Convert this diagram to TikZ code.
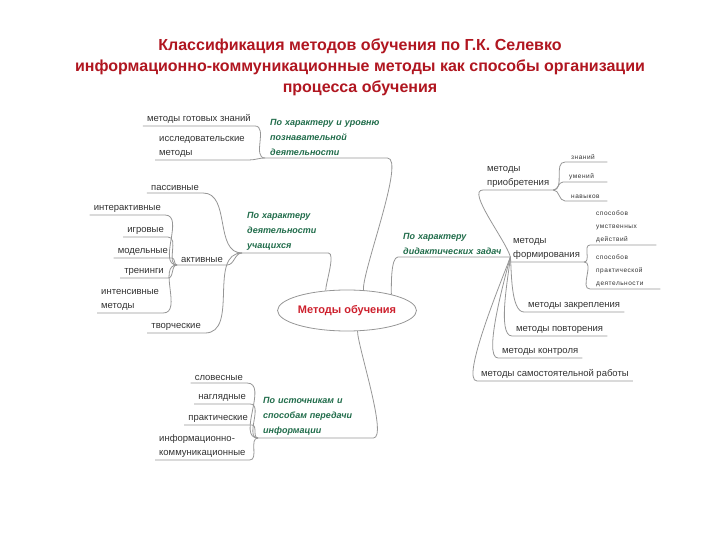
\documentclass[tikz,border=0pt]{standalone}
\usepackage{fontspec}
\setmainfont{Liberation Sans}
\usetikzlibrary{shapes.geometric}
\definecolor{titlered}{RGB}{176,22,32}
\definecolor{corered}{RGB}{205,32,45}
\definecolor{groupgreen}{RGB}{32,108,74}
\definecolor{linegray}{RGB}{150,150,150}
\definecolor{leafgray}{RGB}{50,50,50}
\begin{document}
\begin{tikzpicture}[x=1pt,y=-1pt,
    link/.style={draw=linegray, line width=0.8pt},
    leaf/.style={font=\fontsize{9.5}{14.5}\selectfont, text=leafgray, align=left, inner xsep=4pt, inner ysep=2pt},
    tiny/.style={font=\fontsize{6.5}{13}\selectfont\addfontfeature{LetterSpace=8}, text=leafgray, align=left, inner xsep=6pt, inner ysep=2pt, anchor=south west},
    group/.style={font=\fontsize{9}{15}\selectfont\bfseries\itshape, text=groupgreen, align=left, inner xsep=5pt, inner ysep=2pt, anchor=south west},
    core/.style={ellipse, draw=linegray, line width=0.8pt, minimum width=120pt, minimum height=41pt, inner sep=0pt, font=\fontsize{11}{13}\selectfont\bfseries, text=corered}]
\useasboundingbox (0,0) rectangle (720,540);

% title
\node[font=\fontsize{16}{21}\selectfont\bfseries, text=titlered, align=center] (head) at (360,67)
    {Классификация методов обучения по Г.К. Селевко\\информационно-коммуникационные методы как способы организации\\процесса обучения};

% centre
\node[core] (mo) at (347,310.5) {Методы обучения};

% groups
\node[group, text width=112pt] (poznav) at (265,158) {По характеру и уровню\\познавательной\\деятельности};
\node[group, text width=76pt] (deyat) at (242,253) {По характеру\\деятельности\\учащихся};
\node[group, text width=105pt] (istoch) at (258,438) {По источникам и\\способам передачи\\информации};
\node[group, text width=102pt] (didakt) at (398,257) {По характеру\\дидактических задач};

\draw[link] (poznav.south west) -- (poznav.south east) to[out=0,in=95,looseness=0.35] (mo.51);
\draw[link] (deyat.south west) -- (deyat.south east) to[out=0,in=90,looseness=0.5] (mo.137);
\draw[link] (istoch.south west) -- (istoch.south east) to[out=0,in=-90,looseness=0.35] (mo.297);
\draw[link] (mo.20) to[out=90,in=180,looseness=0.5] (didakt.south west) -- (didakt.south east);

% knowledge level
\node[leaf, anchor=south east] (gotov) at (255,126) {методы готовых знаний};
\node[leaf, anchor=south west] (issl) at (155,160) {исследовательские\\методы};
\draw[link] (gotov.south west) -- (gotov.south east) to[out=0,in=180] (poznav.south west);
\draw[link] (issl.south west) -- (issl.south east) to[out=0,in=180] (poznav.south west);

% pupils activity
\node[leaf, anchor=south east] (passiv) at (203,193) {пассивные};
\node[leaf, anchor=south west] (aktiv) at (177,265) {активные};
\node[leaf, anchor=south east] (tvorch) at (205,333) {творческие};
\draw[link] (passiv.south west) -- (passiv.south east) to[out=0,in=180] (deyat.south west);
\draw[link] (aktiv.south west) -- (aktiv.south east) to[out=0,in=180] (deyat.south west);
\draw[link] (tvorch.south west) -- (tvorch.south east) to[out=0,in=180] (deyat.south west);

\node[leaf, anchor=south east] (inter) at (165,215) {интерактивные};
\node[leaf, anchor=south east] (igrov) at (168,237) {игровые};
\node[leaf, anchor=south east] (model) at (172,258) {модельные};
\node[leaf, anchor=south east] (trenin) at (168,278) {тренинги};
\node[leaf, anchor=south west] (intens) at (97,313) {интенсивные\\методы};
\foreach \n in {inter,igrov,model,trenin,intens}
    \draw[link] (\n.south west) -- (\n.south east) to[out=0,in=180] (aktiv.south west);

% sources
\node[leaf, anchor=south east] (slov) at (247,383) {словесные};
\node[leaf, anchor=south east] (nagl) at (250,404) {наглядные};
\node[leaf, anchor=south east] (prakt) at (252,425) {практические};
\node[leaf, anchor=south west] (infkom) at (155,460) {информационно-\\коммуникационные};
\foreach \n in {slov,nagl,prakt,infkom}
    \draw[link] (\n.south west) -- (\n.south east) to[out=0,in=180] (istoch.south west);

% didactic tasks
\node[leaf, anchor=south west] (prio) at (483,190) {методы\\приобретения};
\node[leaf, anchor=south west] (form) at (509,262) {методы\\формирования};
\node[leaf, anchor=south west] (zakr) at (524,312) {методы закрепления};
\node[leaf, anchor=south west] (povt) at (512,336) {методы повторения};
\node[leaf, anchor=south west] (kontr) at (498,358) {методы контроля};
\node[leaf, anchor=south west] (samost) at (477,381) {методы самостоятельной работы};
\draw[link] (didakt.south east) to[out=105,in=180,looseness=0.6] (prio.south west) -- (prio.south east);
\draw[link] (didakt.south east) to[out=-10,in=180,looseness=0.5] (form.south west) -- (form.south east);
\draw[link] (didakt.south east) to[out=-85,in=180,looseness=0.6] (zakr.south west) -- (zakr.south east);
\draw[link] (didakt.south east) to[out=-95,in=180,looseness=0.5] (povt.south west) -- (povt.south east);
\draw[link] (didakt.south east) to[out=-105,in=180,looseness=0.4] (kontr.south west) -- (kontr.south east);
\draw[link] (didakt.south east) to[out=-110,in=180,looseness=0.35] (samost.south west) -- (samost.south east);

\node[tiny, text width=30pt] (znan) at (565,162) {знаний};
\node[tiny, text width=32pt] (umen) at (563,182) {умений};
\node[tiny, text width=30pt] (navyk) at (565,201) {навыков};
\foreach \n in {znan,umen,navyk}
    \draw[link] (prio.south east) to[out=0,in=180] (\n.south west) -- (\n.south east);

\node[tiny, text width=54pt] (umstv) at (590,245) {способов\\умственных\\действий};
\node[tiny, text width=58pt] (praktd) at (590,289) {способов\\практической\\деятельности};
\foreach \n in {umstv,praktd}
    \draw[link] (form.south east) to[out=0,in=180] (\n.south west) -- (\n.south east);
\end{tikzpicture}
\end{document}
